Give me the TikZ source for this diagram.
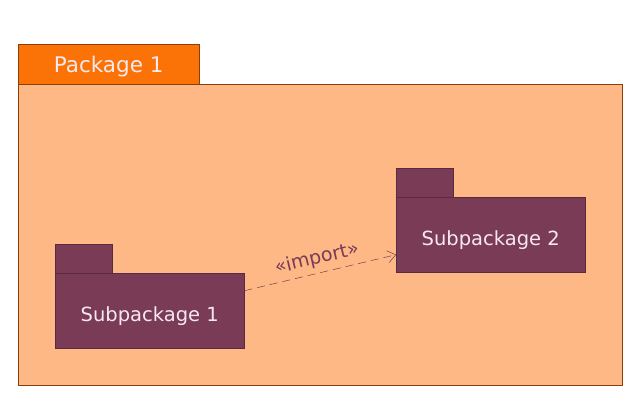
\documentclass[tikz,border=0pt]{standalone}
\usepackage{fontspec}
\setmainfont{DejaVu Sans}
\usepackage{xcolor}
\usetikzlibrary{arrows.meta, positioning, calc}

\definecolor{pkgfill}{HTML}{FDB885}
\definecolor{pkgtab}{HTML}{FB7306}
\definecolor{pkgline}{HTML}{8B3E0A}
\definecolor{subfill}{HTML}{7A3B57}
\definecolor{subline}{HTML}{5A2A40}
\definecolor{subtext}{HTML}{F7E8EF}

\begin{document}
\begin{tikzpicture}[
    x=1pt, y=-1pt,
    pkgbody/.style={draw=pkgline, fill=pkgfill, anchor=north west, minimum width=604pt, minimum height=301pt, inner sep=0pt},
    pkgtitle/.style={draw=pkgline, fill=pkgtab, anchor=south west, minimum width=181pt, minimum height=40pt, inner sep=0pt, text height=17pt, text depth=0pt, font=\fontsize{21.5}{24}\selectfont, text=subtext},
    subbody/.style={draw=subline, fill=subfill, anchor=north west, minimum width=189pt, minimum height=75pt, inner sep=0pt, text height=21pt, text depth=0pt, font=\fontsize{19.5}{22}\selectfont, text=subtext},
    subtab/.style={draw=subline, fill=subfill, anchor=south west, minimum width=57pt, minimum height=29pt, inner sep=0pt},
    dep/.style={-{Straight Barb[length=8pt, width=12pt]}, dashed, dash pattern=on 8pt off 5pt, subline}
]
\useasboundingbox (0,0) rectangle (640,395);

% Outer package
\node[pkgbody] (pkg) at (18,84) {};
\node[pkgtitle] (pkgtab) at (pkg.north west) {Package 1};

% Subpackages
\node[subbody] (sub1) at (55,273) {Subpackage 1};
\node[subtab] (sub1tab) at (sub1.north west) {};
\node[subbody] (sub2) at (396,197) {Subpackage 2};
\node[subtab] (sub2tab) at (sub2.north west) {};

% Import dependency
\draw[dep] ([yshift=20pt]sub1.east) -- node[sloped, above, font=\fontsize{19}{21}\selectfont, text=subfill, inner sep=5pt] {«import»} ([yshift=-20pt]sub2.west);

\end{tikzpicture}
\end{document}
